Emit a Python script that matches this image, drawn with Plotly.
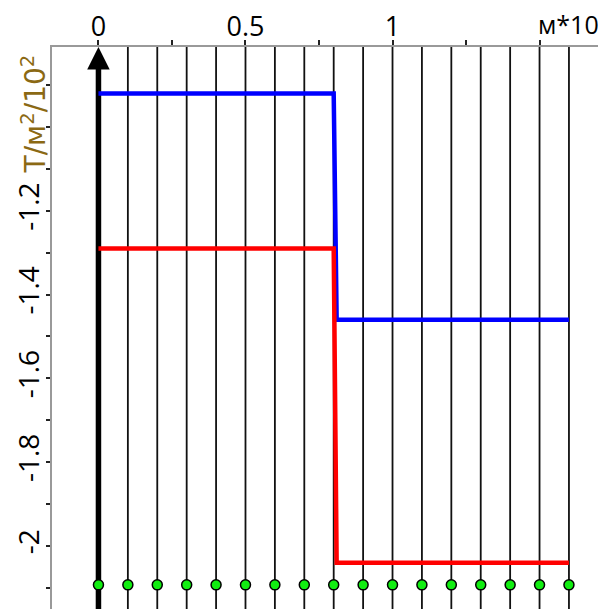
import plotly.graph_objects as go

# ---- data ----
node_x = [0, 0.1, 0.2, 0.3, 0.4, 0.5, 0.6, 0.7, 0.8, 0.9, 1.0, 1.1, 1.2, 1.3, 1.4, 1.5, 1.6]
node_y = -2.093

blue_x = [0, 0.8, 0.81, 1.6]
blue_y = [-0.92, -0.92, -1.46, -1.46]
red_x = [0, 0.8, 0.81, 1.6]
red_y = [-1.29, -1.29, -2.04, -2.04]

x_tickvals = [0, 0.5, 1]
x_ticktext = ["0", "0.5", "1"]
x_minor = [0.25, 0.75, 1.25, 1.5]
x_unit = "м*10"

y_tickvals = [-2.0, -1.8, -1.6, -1.4, -1.2]
y_ticktext = ["-2", "-1.8", "-1.6", "-1.4", "-1.2"]
y_unit = "Т/м<sup>2</sup>/10<sup>2</sup>"

x_range = [-0.158, 1.726]
y_range = [-2.1506, -0.809]

FONT = "Open Sans"

fig = go.Figure()

# vertical node lines
vx, vy = [], []
for x in node_x[1:]:
    vx += [x, x, None]
    vy += [y_range[0], y_range[1], None]
fig.add_trace(go.Scatter(x=vx, y=vy, mode="lines",
                         line=dict(color="#111111", width=1.8),
                         hoverinfo="skip", showlegend=False))
# thick line at zero
fig.add_trace(go.Scatter(x=[node_x[0], node_x[0]], y=[y_range[0], y_range[1] - 0.02],
                         mode="lines", line=dict(color="black", width=5.5),
                         hoverinfo="skip", showlegend=False))

fig.add_trace(go.Scatter(x=blue_x, y=blue_y, mode="lines",
                         line=dict(color="#0000ff", width=4.5), showlegend=False))
fig.add_trace(go.Scatter(x=red_x, y=red_y, mode="lines",
                         line=dict(color="#ff0000", width=4.5), showlegend=False))

fig.add_trace(go.Scatter(x=node_x, y=[node_y] * len(node_x), mode="markers",
                         marker=dict(size=10, color="#11ee11",
                                     line=dict(color="black", width=1.5)),
                         showlegend=False))

fig.update_layout(
    width=598, height=601,
    margin=dict(l=44, r=0, t=39, b=0),
    paper_bgcolor="white", plot_bgcolor="white",
    font=dict(family=FONT, color="black"),
    xaxis=dict(range=x_range, side="top", showgrid=False, zeroline=False,
               automargin=False,
               showline=True, linecolor="#999999", linewidth=1.5,
               tickvals=x_tickvals, ticktext=x_ticktext,
               ticks="outside", ticklen=5, tickwidth=1.5, tickcolor="#222",
               ticklabelstandoff=-7,
               tickfont=dict(size=27, family=FONT),
               minor=dict(tickvals=x_minor, ticks="outside", ticklen=5,
                          tickwidth=1.5, tickcolor="#222")),
    yaxis=dict(range=y_range, showgrid=False, zeroline=False,
               automargin=False,
               showline=True, linecolor="#999999", linewidth=1.5,
               tickvals=y_tickvals, ticktext=y_ticktext, tickangle=-90,
               ticks="outside", ticklen=4, tickwidth=1.5, tickcolor="#222",
               ticklabelstandoff=-4,
               tickfont=dict(size=28, family=FONT),
               minor=dict(dtick=0.1, ticks="outside", ticklen=4,
                          tickwidth=1.5, tickcolor="#222")),
    annotations=[
        dict(x=x_minor[-1], y=1, xref="x", yref="paper", text=x_unit,
             showarrow=False, xanchor="left", yanchor="bottom", yshift=4,
             xshift=-4, font=dict(size=25, family=FONT)),
        dict(x=0, y=-0.97, xref="paper", yref="y", text=y_unit,
             showarrow=False, textangle=-90, xanchor="center", yanchor="middle",
             xshift=-18, font=dict(size=28, family="DejaVu Sans", color="#8b6914")),
        dict(x=node_x[0], y=y_range[1], xref="x", yref="y", ax=0, ay=22,
             text="", showarrow=True, arrowhead=2, arrowsize=0.9,
             arrowwidth=5, arrowcolor="black", standoff=0),
    ],
)

fig.write_html("out.html")
